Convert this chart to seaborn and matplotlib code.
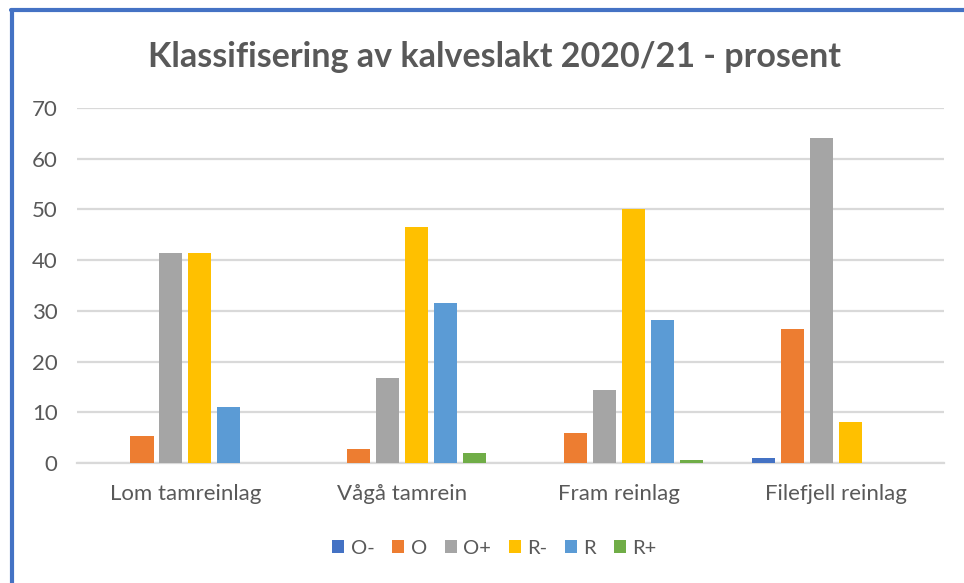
import pandas as pd
import matplotlib.pyplot as plt
import seaborn as sns
from matplotlib.lines import Line2D

# Data
lag = ['Lom tamreinlag', 'Vågå tamrein', 'Fram reinlag', 'Filefjell reinlag']
klasser = ['O-', 'O', 'O+', 'R-', 'R', 'R+']
o_minus = [0.0, 0.0, 0.0, 0.9]
o = [5.3, 2.7, 6.0, 26.5]
o_plus = [41.5, 16.7, 14.3, 64.0]
r_minus = [41.5, 46.6, 50.1, 8.1]
r = [11.1, 31.6, 28.1, 0.0]
r_plus = [0.0, 1.9, 0.6, 0.0]
farger = ['#4472C4', '#ED7D31', '#A5A5A5', '#FFC000', '#5B9BD5', '#70AD47']

# Long format for seaborn
serier = [o_minus, o, o_plus, r_minus, r, r_plus]
rows = []
for k, verdier in zip(klasser, serier):
    for l, v in zip(lag, verdier):
        rows.append({'lag': l, 'klasse': k, 'prosent': v})
data = pd.DataFrame(rows)

sns.set_style('white')
plt.rcParams['font.family'] = ['Lato', 'DejaVu Sans']
tekst = '#595959'
grid = '#D9D9D9'

fig = plt.figure(figsize=(9.64, 5.83), dpi=100)
ax = fig.add_axes([77 / 964, 120 / 583, 867 / 964, 355 / 583])

sns.barplot(data=data, x='lag', y='prosent', hue='klasse', order=lag,
            hue_order=klasser, palette=dict(zip(klasser, farger)),
            saturation=1, gap=0.2, linewidth=0, ax=ax, zorder=3)

ax.set_ylim(0, 70)
ax.set_xlim(-0.5, 3.5)
ax.set_yticks(range(0, 71, 10))
ax.yaxis.grid(True, color=grid, linewidth=1.6, zorder=0)
ax.set_axisbelow(True)
for s in ['top', 'right', 'left']:
    ax.spines[s].set_visible(False)
ax.spines['bottom'].set_color(grid)
ax.spines['bottom'].set_linewidth(1.6)
ax.tick_params(axis='both', length=0, labelsize=16, colors=tekst)
ax.tick_params(axis='y', pad=14)
ax.tick_params(axis='x', pad=15)
ax.set_xlabel('')
ax.set_ylabel('')

fig.text(0.513, 0.903, 'Klassifisering av kalveslakt 2020/21 - prosent',
         ha='center', va='center', fontsize=24.5, fontweight='bold', color=tekst)

handles, labels = ax.get_legend_handles_labels()
ax.legend(handles, labels, loc='center', bbox_to_anchor=(0.513, 1 - 548 / 583),
          bbox_transform=fig.transFigure, ncol=6, frameon=False,
          handlelength=0.6, handleheight=0.6, handletextpad=0.3,
          columnspacing=0.9, fontsize=14.5, labelcolor=tekst)

# Blue frame from the screenshot
blue = '#4472C4'
fig.add_artist(Line2D([12 / 964, 12 / 964], [0, 1 - 10 / 583], color=blue,
                      linewidth=3, transform=fig.transFigure))
fig.add_artist(Line2D([11 / 964, 1], [1 - 10 / 583, 1 - 10 / 583], color=blue,
                      linewidth=3, transform=fig.transFigure))

fig.savefig('out.png', dpi=100)
